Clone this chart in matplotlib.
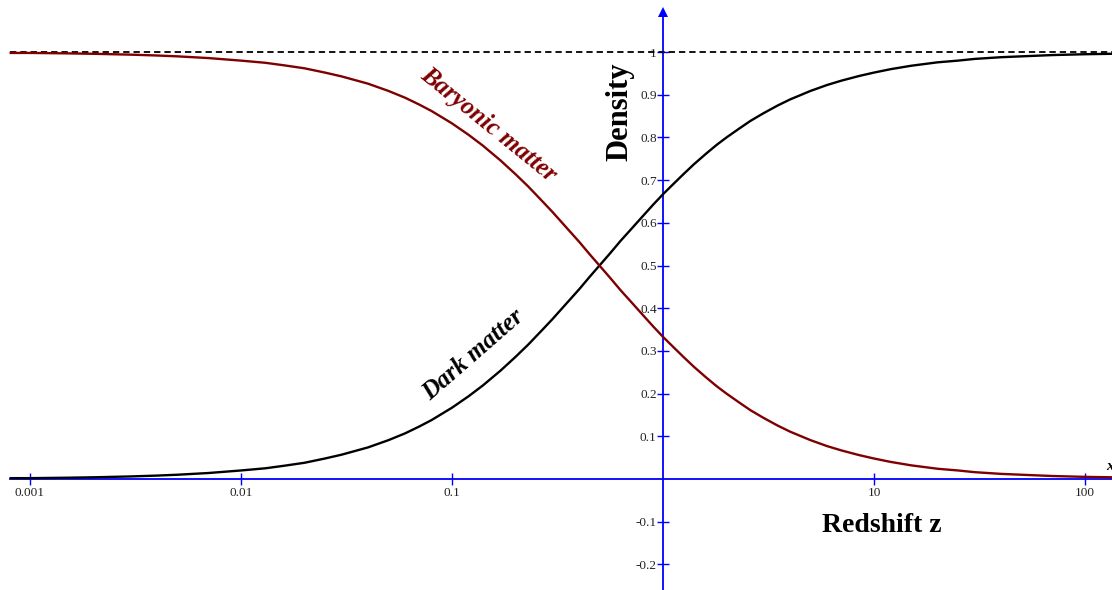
import matplotlib
matplotlib.use('Agg')
import matplotlib.pyplot as plt
from matplotlib.ticker import FixedLocator, FixedFormatter, NullLocator

# ---- data ----
redshift = [0.0008, 0.001, 0.0015, 0.002, 0.003, 0.004, 0.005, 0.007, 0.01, 0.013,
            0.016, 0.02, 0.025, 0.03, 0.04, 0.05, 0.06, 0.07, 0.08, 0.1,
            0.12, 0.14, 0.17, 0.2, 0.23, 0.27, 0.3, 0.35, 0.4, 0.45,
            0.5, 0.56, 0.63, 0.7, 0.8, 0.9, 1.0, 1.12, 1.25, 1.4,
            1.6, 1.8, 2.0, 2.3, 2.6, 3.0, 3.5, 4.0, 5.0, 6.0,
            7.0, 8.5, 10.0, 12.0, 15.0, 20.0, 25.0, 30.0, 40.0, 50.0,
            70.0, 100.0, 135.0]
dark_matter = [0.002, 0.002, 0.003, 0.004, 0.006, 0.008, 0.010, 0.014, 0.020, 0.025,
               0.031, 0.038, 0.048, 0.057, 0.074, 0.091, 0.107, 0.123, 0.138, 0.167,
               0.194, 0.219, 0.254, 0.286, 0.315, 0.351, 0.375, 0.412, 0.444, 0.474,
               0.500, 0.528, 0.558, 0.583, 0.615, 0.643, 0.667, 0.691, 0.714, 0.737,
               0.762, 0.783, 0.800, 0.821, 0.839, 0.857, 0.875, 0.889, 0.909, 0.923,
               0.933, 0.944, 0.952, 0.960, 0.968, 0.976, 0.980, 0.984, 0.988, 0.990,
               0.993, 0.995, 0.996]
baryonic_matter = [0.998, 0.998, 0.997, 0.996, 0.994, 0.992, 0.990, 0.986, 0.980, 0.975,
                   0.969, 0.962, 0.952, 0.943, 0.926, 0.909, 0.893, 0.877, 0.862, 0.833,
                   0.806, 0.781, 0.746, 0.714, 0.685, 0.649, 0.625, 0.588, 0.556, 0.526,
                   0.500, 0.472, 0.442, 0.417, 0.385, 0.357, 0.333, 0.309, 0.286, 0.263,
                   0.238, 0.217, 0.200, 0.179, 0.161, 0.143, 0.125, 0.111, 0.091, 0.077,
                   0.067, 0.056, 0.048, 0.040, 0.032, 0.024, 0.020, 0.016, 0.012, 0.010,
                   0.007, 0.005, 0.004]
reference_level = 1.0

x_ticks = [0.001, 0.01, 0.1, 10, 100]
x_tick_labels = ['0.001', '0.01', '0.1', '10', '100']
y_ticks = [-0.2, -0.1, 0.1, 0.2, 0.3, 0.4, 0.5, 0.6, 0.7, 0.8, 0.9, 1.0]
y_tick_labels = ['-0.2', '-0.1', '0.1', '0.2', '0.3', '0.4', '0.5', '0.6', '0.7', '0.8', '0.9', '1']

plt.rcParams['font.family'] = ['Liberation Serif', 'DejaVu Serif']

W, H = 1112, 590
fig = plt.figure(figsize=(W / 100, H / 100), dpi=100)
ax = fig.add_axes([0, 0, 1, 1])
ax.set_xscale('log')
xmin, xmax = 10 ** -3.142, 10 ** 2.128
ax.set_xlim(xmin, xmax)
ax.set_ylim(-0.26, 1.122)

# curves
ax.plot(redshift, dark_matter, color='black', lw=1.7, zorder=4,
        solid_capstyle='butt', solid_joinstyle='round')
ax.plot(redshift, baryonic_matter, color='#7f0000', lw=1.7, zorder=4,
        solid_capstyle='butt', solid_joinstyle='round')
ax.plot([redshift[0], xmax], [reference_level, reference_level], color='black',
        lw=1.3, ls=(0, (3.5, 2.2)), zorder=3)

# axes through origin (x=1, y=0)
for s in ['top', 'right']:
    ax.spines[s].set_visible(False)
ax.spines['left'].set_position(('data', 1))
ax.spines['bottom'].set_position(('data', 0))
ax.spines['left'].set_color('blue')
ax.spines['bottom'].set_color('blue')
ax.spines['left'].set_linewidth(1.3)
ax.spines['bottom'].set_linewidth(1.3)
ax.spines['left'].set_bounds(-0.26, 1.093)
ax.spines['bottom'].set_bounds(redshift[0], xmax)
ax.plot([1], [1.093], marker='^', color='blue', ms=7, mew=0, clip_on=False, zorder=5)

ax.xaxis.set_major_locator(FixedLocator(x_ticks))
ax.xaxis.set_major_formatter(FixedFormatter(x_tick_labels))
ax.xaxis.set_minor_locator(NullLocator())
ax.yaxis.set_major_locator(FixedLocator(y_ticks))
ax.yaxis.set_major_formatter(FixedFormatter(y_tick_labels))
ax.yaxis.set_minor_locator(NullLocator())
ax.tick_params(axis='both', which='major', direction='inout', length=9, width=1,
               color='blue', labelcolor='#222222', labelsize=9.5)
ax.tick_params(axis='x', pad=1)
ax.tick_params(axis='y', pad=0)

def px(x, y):
    return x / W, 1 - y / H

ax.text(*px(620, 112), 'Density', transform=ax.transAxes, rotation=90,
        ha='center', va='center', fontsize=22, fontweight='bold', color='black')
ax.text(*px(882, 526), 'Redshift z', transform=ax.transAxes,
        ha='center', va='center', fontsize=20, fontweight='bold', color='black')
ax.text(*px(489, 125), 'Baryonic matter', transform=ax.transAxes, rotation=-39,
        rotation_mode='anchor', ha='center', va='center', fontsize=18,
        fontweight='bold', fontstyle='italic', color='#7f0000',
        family='Liberation Serif')
ax.text(*px(473, 355), 'Dark matter', transform=ax.transAxes, rotation=41,
        rotation_mode='anchor', ha='center', va='center', fontsize=18,
        fontweight='bold', fontstyle='italic', color='black',
        family='Liberation Serif')
ax.text(*px(1106, 466), 'x', transform=ax.transAxes, ha='left', va='center',
        fontsize=11, fontweight='bold', fontstyle='italic', color='black')

fig.savefig('out.png', dpi=100, facecolor='white')
